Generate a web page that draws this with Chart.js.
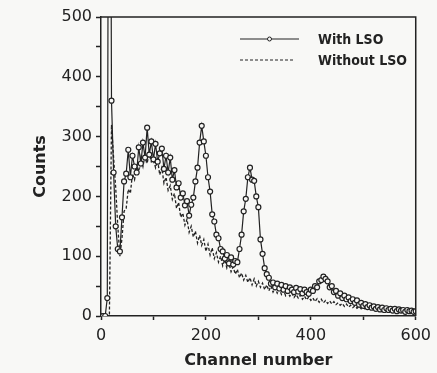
<!DOCTYPE html>
<html>
<head>
<meta charset="utf-8">
<script src="https://cdn.jsdelivr.net/npm/chart.js@4.4.0/dist/chart.umd.min.js"></script>
<style>
  html, body { margin: 0; padding: 0; background: #f8f8f6; }
  #wrap { width: 437px; height: 373px; position: relative; }
</style>
</head>
<body>
<div id="wrap"><canvas id="spectrum"></canvas></div>
<script>
// channel numbers (every 4th channel)
const channels = [
  0,4,8,12,16,20,24,28,32,36,40,44,48,52,56,60,64,68,72,76,
  80,84,88,92,96,100,104,108,112,116,120,124,128,132,136,140,144,148,152,156,
  160,164,168,172,176,180,184,188,192,196,200,204,208,212,216,220,224,228,232,236,
  240,244,248,252,256,260,264,268,272,276,280,284,288,292,296,300,304,308,312,316,
  320,324,328,332,336,340,344,348,352,356,360,364,368,372,376,380,384,388,392,396,
  400,404,408,412,416,420,424,428,432,436,440,444,448,452,456,460,464,468,472,476,
  480,484,488,492,496,500,504,508,512,516,520,524,528,532,536,540,544,548,552,556,
  560,564,568,572,576,580,584,588,592,596,600
];

const withLSO = [
  0,0,0,30,1500,360,240,150,112,108,165,225,238,278,232,268,250,240,282,255,
  290,265,315,270,292,262,288,258,272,280,246,268,240,265,228,244,215,222,198,205,
  185,192,168,186,198,225,248,290,318,292,268,232,208,170,158,136,130,112,108,96,
  102,88,98,86,92,90,112,136,175,196,232,248,228,226,200,182,128,104,80,70,
  64,54,56,48,54,46,52,44,50,42,48,44,40,47,41,45,38,44,40,37,
  44,42,50,48,58,60,66,62,58,48,50,40,42,34,38,30,34,28,31,25,
  28,22,26,19,22,17,20,15,18,14,16,12,15,11,14,10,13,10,12,9,
  12,8,11,9,10,7,10,8,9,7,8
];

const withoutLSO = [
  0,0,0,0,0,320,265,215,150,100,130,175,180,212,205,238,228,250,242,265,
  250,270,255,275,258,262,248,260,236,248,222,232,210,218,195,205,180,190,165,172,
  152,162,140,150,132,142,122,135,118,128,108,120,102,114,96,106,90,100,84,94,
  80,88,74,82,70,78,64,72,60,68,56,64,52,62,50,58,48,55,44,52,
  42,50,40,47,38,45,36,43,34,40,33,38,31,36,30,35,28,33,27,32,
  26,30,24,29,23,28,22,26,21,25,20,24,19,22,18,21,16,20,15,18,
  14,17,13,16,12,15,11,14,10,13,10,12,9,11,8,10,8,9,7,9,
  6,8,6,7,5,7,5,6,4,6,5
];

const xTicks = [0, 200, 400, 600];
const yTicks = [0, 100, 200, 300, 400, 500];

const INK = '#222';
const BG = '#f8f8f6';

const toPoints = vals => channels.map((c, i) => ({ x: c, y: vals[i] }));

// box round the plot + legend inside upper right
const framePlugin = {
  id: 'frame',
  afterDraw(chart) {
    const { ctx, chartArea: a } = chart;
    ctx.save();
    ctx.strokeStyle = INK;
    ctx.lineWidth = 1.5;
    ctx.beginPath();
    ctx.moveTo(a.left, a.top);
    ctx.lineTo(a.right, a.top);
    ctx.lineTo(a.right, a.bottom);
    ctx.stroke();

    const items = chart.data.datasets;
    const x0 = a.left + 139, x1 = a.left + 198, tx = a.left + 217;
    items.forEach((ds, i) => {
      const y = a.top + 22 + i * 21;
      ctx.strokeStyle = INK;
      ctx.lineWidth = 1;
      ctx.setLineDash(ds.borderDash || []);
      ctx.beginPath();
      ctx.moveTo(x0, y);
      ctx.lineTo(i === 0 ? x1 : x1 - 6, y);
      ctx.stroke();
      ctx.setLineDash([]);
      if (ds.pointRadius > 0) {
        ctx.beginPath();
        ctx.arc((x0 + x1) / 2, y, 2, 0, Math.PI * 2);
        ctx.fillStyle = BG;
        ctx.fill();
        ctx.stroke();
      }
      ctx.fillStyle = INK;
      ctx.font = 'bold 14px "DejaVu Sans Condensed", "DejaVu Sans", sans-serif';
      ctx.textBaseline = 'middle';
      ctx.textAlign = 'left';
      ctx.fillText(ds.label, tx, y + 1);
    });
    ctx.restore();
  }
};

new Chart(document.getElementById('spectrum'), {
  type: 'line',
  data: {
    datasets: [
      {
        label: 'With LSO',
        data: toPoints(withLSO),
        borderColor: INK,
        borderWidth: 1.2,
        pointRadius: 2.5,
        pointBackgroundColor: BG,
        pointBorderColor: INK,
        pointBorderWidth: 1.2,
        tension: 0
      },
      {
        label: 'Without LSO',
        data: toPoints(withoutLSO),
        borderColor: INK,
        borderWidth: 1.3,
        borderDash: [3, 2],
        pointRadius: 0,
        tension: 0
      }
    ]
  },
  options: {
    responsive: true,
    maintainAspectRatio: false,
    animation: false,
    layout: { padding: { left: 0, top: 17, right: 20, bottom: 0 } },
    plugins: { legend: { display: false }, tooltip: { enabled: false } },
    scales: {
      x: {
        type: 'linear',
        min: 0, max: 600,
        afterFit: s => { s.height = 57; },
        ticks: {
          stepSize: 100,
          color: INK,
          padding: 6,
          maxRotation: 0,
          font: { family: '"DejaVu Sans", sans-serif', size: 16 },
          callback: v => xTicks.includes(v) ? String(v) : ''
        },
        grid: { drawOnChartArea: false, tickLength: 4, color: INK, tickWidth: 1.5 },
        border: { display: true, color: INK, width: 1.5 },
        title: {
          display: true,
          text: 'Channel number',
          color: INK,
          padding: { top: 0, bottom: 3 },
          font: { family: '"DejaVu Sans", sans-serif', size: 16, weight: 'bold' }
        }
      },
      y: {
        min: 0, max: 500,
        afterFit: s => { s.width = 101; },
        ticks: {
          stepSize: 50,
          color: INK,
          padding: 4,
          font: { family: '"DejaVu Sans", sans-serif', size: 16 },
          callback: v => yTicks.includes(v) ? String(v) : ''
        },
        grid: { drawOnChartArea: false, tickLength: 5, color: INK, tickWidth: 1.5 },
        border: { display: true, color: INK, width: 1.5 },
        title: {
          display: true,
          text: 'Counts',
          color: INK,
          padding: { top: 31, bottom: 0 },
          font: { family: '"DejaVu Sans", sans-serif', size: 16, weight: 'bold' }
        }
      }
    }
  },
  plugins: [framePlugin]
});
</script>
</body>
</html>
